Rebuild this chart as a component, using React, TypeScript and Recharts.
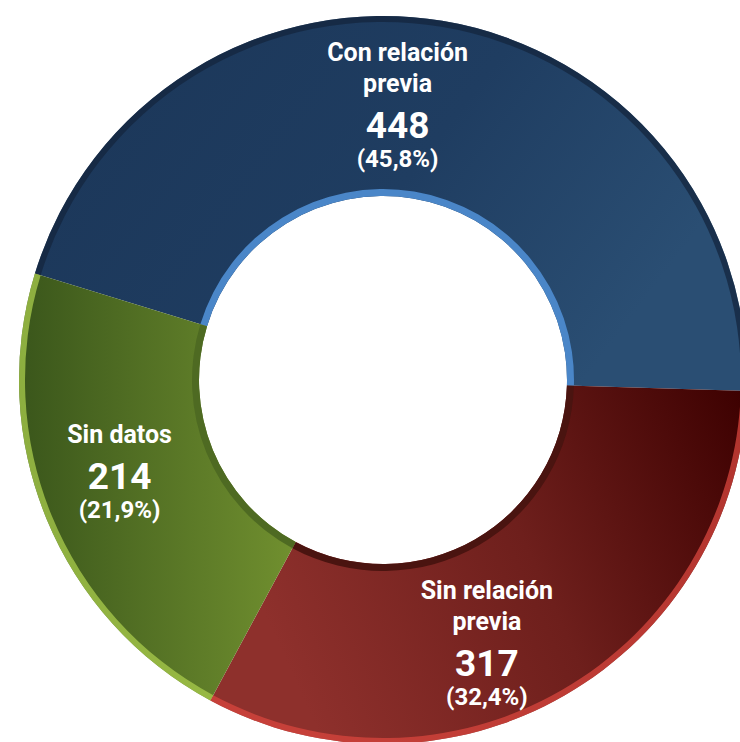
import { PieChart, Pie, Cell } from "recharts";

// categories + counts
const CATEGORIES = ["Con relación previa", "Sin relación previa", "Sin datos"];
const COUNTS = [448, 317, 214];

const FILLS = ["url(#gBlue)", "url(#gRed)", "url(#gGreen)"];
const INNER_EDGE = ["#4a86c8", "#4a1410", "#4e6a22"];
const OUTER_EDGE = ["#14263d", "#d8463e", "#a9cc4c"];
// small hand tweaks so the labels sit where the original has them
const LABEL_NUDGE = [
  [-30, 28],
  [-33, 59],
  [-10, 5],
];

const TOTAL = COUNTS.reduce((a, b) => a + b, 0);
const data = CATEGORIES.map((name, i) => ({ name, value: COUNTS[i] }));

const RAD = Math.PI / 180;
const FONT = "Roboto, 'Noto Sans', sans-serif";

function wrap(name: string) {
  // "Con relación previa" -> two lines, "Sin datos" stays one
  const words = name.split(" ");
  if (words.length <= 2) return [name];
  return [words.slice(0, 2).join(" "), words.slice(2).join(" ")];
}

function renderLabel(props: any) {
  const { cx, cy, midAngle, index } = props;
  const r = 274;
  const x = cx + r * Math.cos(-midAngle * RAD) + LABEL_NUDGE[index][0];
  const y = cy + r * Math.sin(-midAngle * RAD) + LABEL_NUDGE[index][1];
  const lines = wrap(CATEGORIES[index]);
  const pct = ((COUNTS[index] / TOTAL) * 100).toFixed(1).replace(".", ",");
  return (
    <g key={"lbl" + index} fontFamily={FONT} fill="#ffffff" textAnchor="middle">
      {lines.map((ln, k) => (
        <text
          key={k}
          x={x}
          y={y - 46 - (lines.length - 1 - k) * 31}
          fontSize={25}
          fontWeight={700}
        >
          {ln}
        </text>
      ))}
      <text x={x} y={y} fontSize={37} fontWeight={700}>
        {COUNTS[index]}
      </text>
      <text x={x} y={y + 29} fontSize={24} fontWeight={700}>
        ({pct}%)
      </text>
    </g>
  );
}

export default function App() {
  const cx = 378;
  const cy = 375;
  const start = 163;
  const end = start - 360;
  return (
    <div style={{ position: "absolute", left: 0, top: 0, width: 740, height: 742, background: "#fff" }}>
      <PieChart width={740} height={742}>
        <defs>
          <linearGradient id="gBlue" x1="0" y1="0" x2="1" y2="0.4">
            <stop offset="0%" stopColor="#1b3658" />
            <stop offset="60%" stopColor="#1f3d61" />
            <stop offset="100%" stopColor="#2a4e73" />
          </linearGradient>
          <linearGradient id="gRed" x1="0" y1="0.3" x2="1" y2="0">
            <stop offset="0%" stopColor="#8e302c" />
            <stop offset="50%" stopColor="#6e1f1c" />
            <stop offset="100%" stopColor="#3c0000" />
          </linearGradient>
          <linearGradient id="gGreen" x1="0" y1="0" x2="1" y2="0">
            <stop offset="0%" stopColor="#3a561b" />
            <stop offset="100%" stopColor="#71902f" />
          </linearGradient>
        </defs>
        <Pie
          data={data}
          dataKey="value"
          cx={cx}
          cy={cy}
          innerRadius={184}
          outerRadius={364}
          startAngle={start}
          endAngle={end}
          stroke="none"
          labelLine={false}
          label={renderLabel}
          isAnimationActive={false}
        >
          {data.map((d, i) => (
            <Cell key={d.name} fill={FILLS[i]} />
          ))}
        </Pie>
        <Pie
          data={data}
          dataKey="value"
          cx={cx}
          cy={cy}
          innerRadius={184}
          outerRadius={191}
          startAngle={start}
          endAngle={end}
          stroke="none"
          isAnimationActive={false}
        >
          {data.map((d, i) => (
            <Cell key={d.name} fill={INNER_EDGE[i]} />
          ))}
        </Pie>
        <Pie
          data={data}
          dataKey="value"
          cx={cx}
          cy={cy}
          innerRadius={358}
          outerRadius={364}
          startAngle={start}
          endAngle={end}
          stroke="none"
          isAnimationActive={false}
        >
          {data.map((d, i) => (
            <Cell key={d.name} fill={OUTER_EDGE[i]} fillOpacity={0.75} />
          ))}
        </Pie>
      </PieChart>
    </div>
  );
}
